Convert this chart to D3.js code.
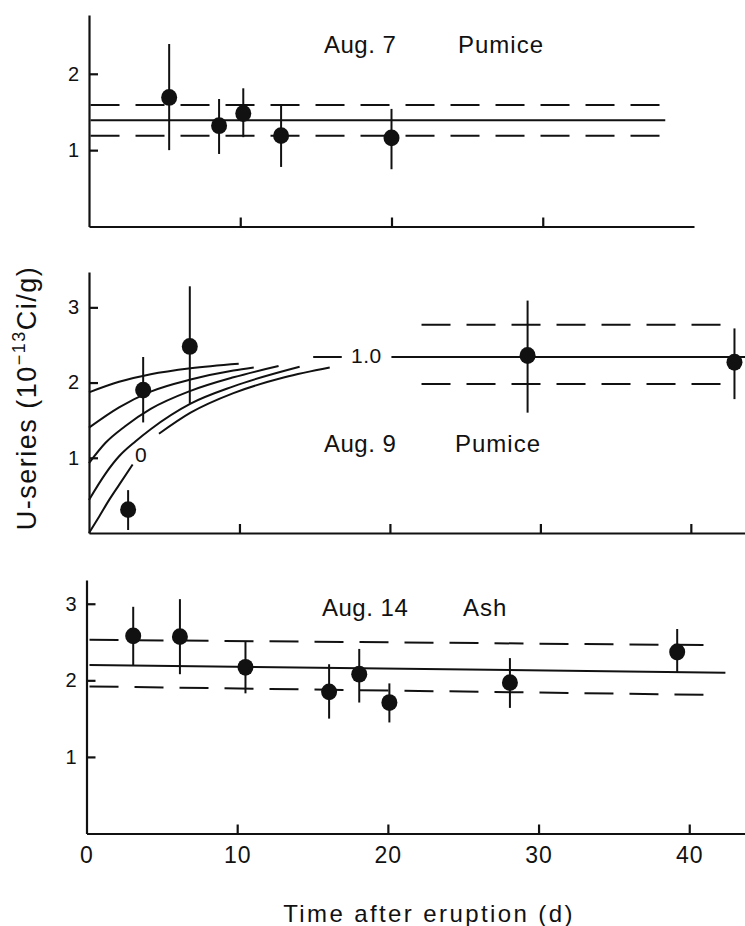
<!DOCTYPE html>
<html>
<head>
<meta charset="utf-8">
<script src="https://cdn.jsdelivr.net/npm/d3@7"></script>
<style>
  body { margin: 0; background: #fff; }
  svg { display: block; }
  text { font-family: "Liberation Sans", Arial, sans-serif; fill: #111; }
  .axis path, .axis line { stroke: #111; stroke-width: 2.2; }
  .axis text { font-family: "Liberation Sans", Arial, sans-serif; fill: #111; }
</style>
</head>
<body>
<script>
// ---------- DATA ----------
// Aug. 7 Pumice
const aug7Days   = [5.3, 8.6, 10.2, 12.7, 20.0];
const aug7Values = [1.69, 1.32, 1.48, 1.19, 1.16];
const aug7Low    = [1.00, 0.95, 1.17, 0.78, 0.75];
const aug7High   = [2.39, 1.67, 1.81, 1.60, 1.54];
const aug7Mean   = [[0.1, 1.39], [38.1, 1.39]];
const aug7Upper  = [[0.1, 1.59], [38.1, 1.59]];
const aug7Lower  = [[0.1, 1.19], [38.1, 1.19]];

// Aug. 9 Pumice
const aug9Days   = [2.6, 3.6, 6.7, 29.15, 42.9];
const aug9Values = [0.31, 1.90, 2.48, 2.36, 2.27];
const aug9Low    = [0.04, 1.47, 1.72, 1.60, 1.78];
const aug9High   = [0.57, 2.34, 3.28, 3.09, 2.72];
const aug9Mean   = [[20.1, 2.34], [43.6, 2.34]];
const aug9MeanLead = [[14.9, 2.34], [16.8, 2.34]];
const aug9Upper  = [[22.1, 2.77], [42.1, 2.77]];
const aug9Lower  = [[22.1, 1.98], [42.1, 1.98]];
// ingrowth curves (top = 1.0 ... bottom = 0)
const curveA  = [[0, 1.87], [2, 2.01], [4.1, 2.11], [6.75, 2.19], [9.95, 2.25]];
const curveB  = [[0, 1.40], [2, 1.67], [4.1, 1.88], [6.75, 2.04], [9.6, 2.16], [10.95, 2.20]];
const curveC  = [[0, 0.93], [1.1, 1.20], [2.4, 1.42], [4.1, 1.65], [6.75, 1.89], [9.6, 2.07], [12.6, 2.22]];
const curveD  = [[0, 0.44], [1.1, 0.79], [2, 1.02], [3.1, 1.22], [4.1, 1.38], [6.75, 1.72], [9.6, 1.95], [14.0, 2.21]];
const curveE1 = [[0, 0.0], [0.68, 0.22], [1.34, 0.44], [2.0, 0.64], [2.9, 0.91]];
const curveE2 = [[4.65, 1.32], [6.75, 1.60], [9.6, 1.86], [13.0, 2.07], [16.0, 2.20]];

// Aug. 14 Ash
const aug14Days   = [3.1, 6.2, 10.55, 16.1, 18.1, 20.1, 28.1, 39.2];
const aug14Values = [2.58, 2.57, 2.17, 1.85, 2.08, 1.71, 1.97, 2.37];
const aug14Low    = [2.20, 2.08, 1.83, 1.50, 1.71, 1.45, 1.64, 2.10];
const aug14High   = [2.96, 3.06, 2.50, 2.21, 2.41, 1.96, 2.29, 2.67];
const aug14Mean   = [[0.2, 2.20], [42.4, 2.10]];
const aug14Upper  = [[0.2, 2.53], [41.2, 2.46]];
const aug14Lower  = [[0.2, 1.92], [41.2, 1.81]];

const xTickValues = [0, 10, 20, 30, 40];
const xTitle = "Time after eruption (d)";

// ---------- LAYOUT ----------
const W = 745, H = 926;
const svg = d3.select("body").append("svg").attr("width", W).attr("height", H);

function makePanel(cfg) {
  const x = d3.scaleLinear().domain([0, cfg.xMax]).range([cfg.left, cfg.right]);
  const y = d3.scaleLinear().domain([0, cfg.yMax]).range([cfg.bottom, cfg.top]);
  const g = svg.append("g");

  g.append("g").attr("class", "axis")
    .attr("transform", `translate(0,${cfg.bottom})`)
    .call(d3.axisBottom(x).tickValues(cfg.xTicks).tickSizeInner(-9).tickSizeOuter(0)
      .tickPadding(13).tickFormat(cfg.xLabels ? d3.format("d") : ""))
    .call(a => a.selectAll("text").style("font-size", "23px").style("letter-spacing", "1px"))
    .call(a => a.selectAll(".tick").filter(d => d === 0).select("line").remove());

  g.append("g").attr("class", "axis")
    .attr("transform", `translate(${cfg.left},0)`)
    .call(d3.axisLeft(y).tickValues(cfg.yTicks).tickSizeInner(-9).tickSizeOuter(0)
      .tickPadding(10).tickFormat(d3.format("d")))
    .call(a => a.selectAll("text").style("font-size", "20px"));

  return { x, y, g };
}

function drawLine(p, pts, dashed, width) {
  const line = d3.line().x(d => p.x(d[0])).y(d => p.y(d[1]));
  p.g.append("path").datum(pts).attr("d", line)
    .attr("fill", "none").attr("stroke", "#111")
    .attr("stroke-width", width || 2)
    .attr("stroke-dasharray", dashed ? "29,16" : null);
}

function drawCurve(p, pts) {
  const line = d3.line().x(d => p.x(d[0])).y(d => p.y(d[1])).curve(d3.curveMonotoneX);
  p.g.append("path").datum(pts).attr("d", line)
    .attr("fill", "none").attr("stroke", "#111").attr("stroke-width", 2);
}

function drawPoints(p, days, vals, lo, hi) {
  const data = days.map((d, i) => ({ t: d, v: vals[i], lo: lo[i], hi: hi[i] }));
  p.g.selectAll(null).data(data).enter().append("line")
    .attr("x1", d => p.x(d.t)).attr("x2", d => p.x(d.t))
    .attr("y1", d => p.y(d.lo)).attr("y2", d => p.y(d.hi))
    .attr("stroke", "#111").attr("stroke-width", 2);
  p.g.selectAll(null).data(data).enter().append("ellipse")
    .attr("cx", d => p.x(d.t)).attr("cy", d => p.y(d.v))
    .attr("rx", 8).attr("ry", 8.4).attr("fill", "#111");
}

function txt(p, x, y, s, size, ls) {
  p.g.append("text").attr("x", x).attr("y", y)
    .style("font-size", size + "px").style("letter-spacing", (ls || 0) + "px").text(s);
}

// Panel 1: Aug. 7 Pumice
const p1 = makePanel({ left: 89, right: 694, top: 15, bottom: 226.5, xMax: 40, yMax: 2.77,
  xTicks: [10, 20, 30], yTicks: [1, 2], xLabels: false });
drawLine(p1, aug7Upper, true);
drawLine(p1, aug7Mean, false);
drawLine(p1, aug7Lower, true);
drawPoints(p1, aug7Days, aug7Values, aug7Low, aug7High);
txt(p1, 324, 53, "Aug. 7", 24, 0.5);
txt(p1, 458, 53, "Pumice", 24, 1);

// Panel 2: Aug. 9 Pumice
const p2 = makePanel({ left: 89, right: 745, top: 272, bottom: 533, xMax: 43.6, yMax: 3.47,
  xTicks: [10, 20, 30, 40], yTicks: [1, 2, 3], xLabels: false });
[curveA, curveB, curveC, curveD, curveE1, curveE2].forEach(c => drawCurve(p2, c));
drawLine(p2, aug9Upper, true);
drawLine(p2, aug9Mean, false);
drawLine(p2, aug9MeanLead, false);
drawLine(p2, aug9Lower, true);
drawPoints(p2, aug9Days, aug9Values, aug9Low, aug9High);
txt(p2, 351, 363, "1.0", 21, 0.5);
txt(p2, 135, 462, "0", 21, 0);
txt(p2, 324, 452, "Aug. 9", 24, 0.5);
txt(p2, 455, 452, "Pumice", 24, 1);

// Panel 3: Aug. 14 Ash
const p3 = makePanel({ left: 86.5, right: 745, top: 580, bottom: 833.5, xMax: 43.7, yMax: 3.31,
  xTicks: xTickValues, yTicks: [1, 2, 3], xLabels: true });
drawLine(p3, aug14Upper, true);
drawLine(p3, aug14Mean, false);
drawLine(p3, aug14Lower, true);
drawPoints(p3, aug14Days, aug14Values, aug14Low, aug14High);
txt(p3, 322, 616, "Aug. 14", 24, 0.5);
txt(p3, 463, 616, "Ash", 24, 1);

// Axis titles
svg.append("text").attr("x", 429).attr("y", 922).attr("text-anchor", "middle")
  .style("font-size", "24px").style("letter-spacing", "2.4px").text(xTitle);

const yl = svg.append("text").attr("transform", "translate(36,398) rotate(-90)")
  .attr("text-anchor", "middle").style("font-size", "27px").style("letter-spacing", "1.5px");
yl.append("tspan").text("U-series (10");
yl.append("tspan").attr("dy", -11).style("font-size", "18px").text("−13");
yl.append("tspan").attr("dy", 11).text("Ci/g)");
</script>
</body>
</html>
